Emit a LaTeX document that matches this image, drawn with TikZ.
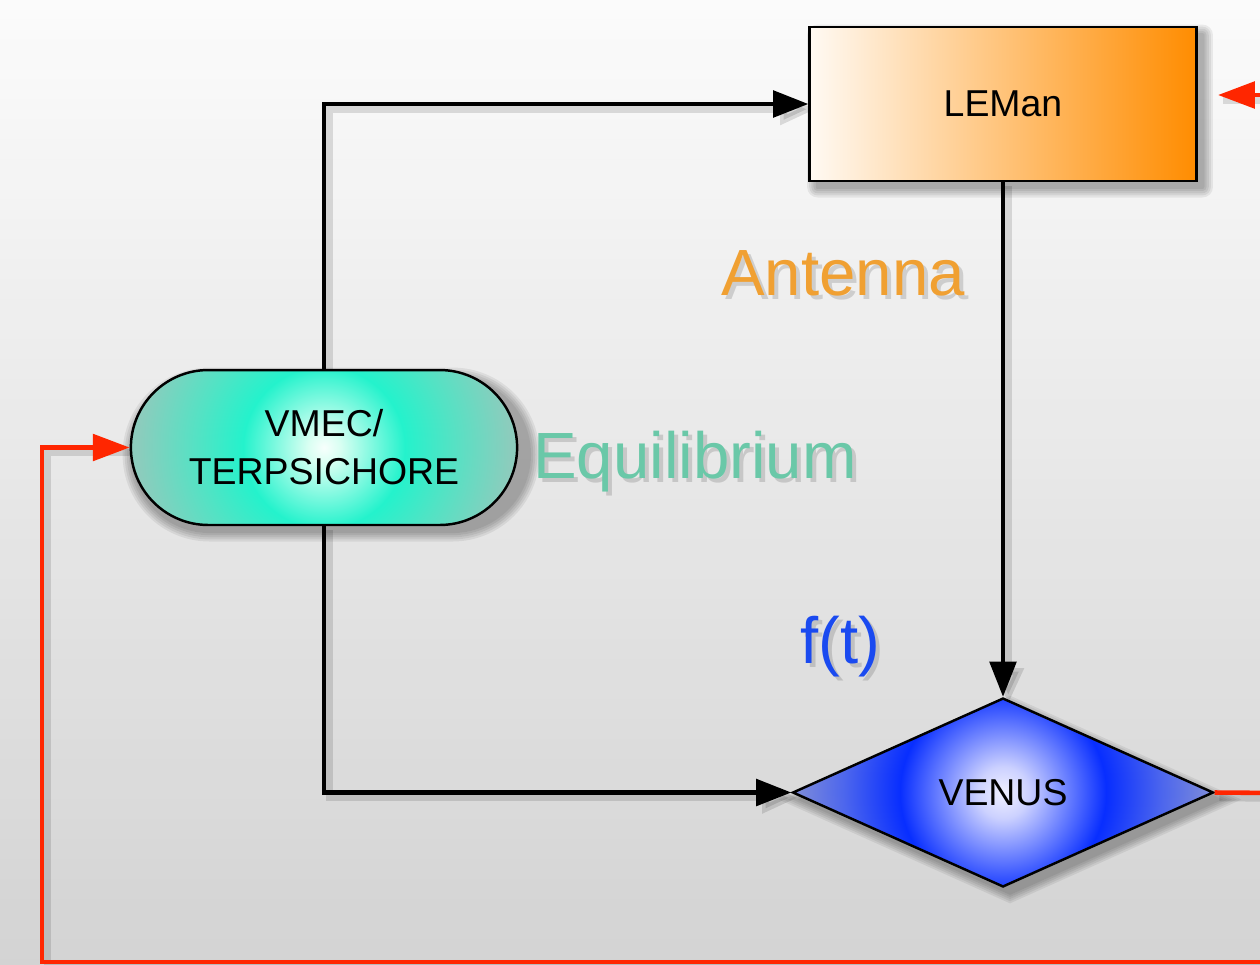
\documentclass[tikz,border=0pt]{standalone}
\usepackage{fontspec}
\setmainfont{Liberation Sans}
\usetikzlibrary{arrows.meta,shapes.geometric,shapes.misc}
\definecolor{redc}{RGB}{255,38,0}
\definecolor{antc}{RGB}{240,160,50}
\definecolor{equc}{RGB}{106,200,168}
\definecolor{ftc}{RGB}{26,74,240}
\definecolor{bgtop}{RGB}{251,251,251}
\definecolor{bgbot}{RGB}{211,211,211}
\pgfdeclarehorizontalshading{leshade}{100bp}{rgb(0bp)=(1,0.98,0.955); rgb(25bp)=(1,0.98,0.955); rgb(75bp)=(1,0.55,0); rgb(100bp)=(1,0.55,0)}
\pgfdeclareradialshading{vmshade}{\pgfpoint{0bp}{0bp}}{rgb(0bp)=(0.97,1,0.99); rgb(2bp)=(0.85,1,0.95); rgb(10bp)=(0.14,0.95,0.8); rgb(15.5bp)=(0.32,0.89,0.77); rgb(23bp)=(0.55,0.8,0.74); rgb(50bp)=(0.56,0.8,0.74)}
\pgfdeclareradialshading{veshade}{\pgfpoint{0bp}{0bp}}{rgb(0bp)=(0.94,0.94,1); rgb(3bp)=(0.8,0.82,1); rgb(12bp)=(0.03,0.18,1); rgb(18.5bp)=(0.3,0.4,0.93); rgb(25bp)=(0.52,0.57,0.84); rgb(50bp)=(0.52,0.57,0.84)}
\begin{document}
\begin{tikzpicture}[x=0.02cm,y=-0.02cm,
  nodetext/.style={font=\fontsize{21.3pt}{27.2pt}\selectfont, text=black},
  lab/.style={font=\fontsize{37.2pt}{40pt}\selectfont, inner sep=0pt},
  labshadow/.style={lab, text=black, opacity=0.14},
  shadowstep/.style={fill=black, opacity=0.065, draw=none, inner sep=0pt},
  lebox/.style={rectangle, draw=black, line width=1.4pt, minimum width=7.74cm, minimum height=3.08cm, fill=orange!40, nodetext,
     path picture={\shade[shading=leshade] (path picture bounding box.south west) rectangle (path picture bounding box.north east);}},
  vmbox/.style={rounded rectangle, draw=black, line width=1.4pt, minimum width=7.96cm, minimum height=3.1cm, fill=cyan!40, align=center, nodetext,
     path picture={\shade[shading=vmshade] (path picture bounding box.center) circle (4.05cm);}},
  vebox/.style={diamond, draw=black, line width=1.4pt, minimum width=8.42cm, minimum height=3.78cm, inner sep=0pt, fill=blue, nodetext,
     path picture={\shade[shading=veshade] (path picture bounding box.center) circle (4.3cm);}},
  conn/.style={line width=2.5pt, draw=black, -{Triangle[length=20pt,width=15pt]}},
  connshadow/.style={line width=4pt, draw=black, opacity=0.12, -{Triangle[length=20pt,width=17pt]}, transform canvas={xshift=3pt,yshift=-3pt}},
  redline/.style={line width=2.6pt, draw=redc},
  redarrow/.style={redline, -{Triangle[length=21pt,width=15pt]}},
  redshadow/.style={line width=4pt, draw=black, opacity=0.12, transform canvas={xshift=3pt,yshift=-3pt}},
]
\useasboundingbox (0,0) rectangle (1260,964);
\clip (0,0) rectangle (1260,964);
% background gradient
\foreach \i in {0,...,48}{
  \pgfmathsetmacro{\pc}{100-\i*100/48}
  \fill[bgtop!\pc!bgbot] (0,\i*20-1) rectangle (1260,\i*20+21);
}

% node centres and border points
\coordinate (lec) at (1003,104);
\coordinate (vmc) at (324,447.5);
\coordinate (vec) at (1003,792.5);
\coordinate (lew) at (810,104);
\coordinate (les) at (1003,181);
\coordinate (vmn) at (324,370);
\coordinate (vms) at (324,525);
\coordinate (vmw) at (130,447.5);
\coordinate (ven) at (1003,698);
\coordinate (vew) at (792,792.5);
\coordinate (vee) at (1214,792.5);

% coordinates for free ends
\coordinate (rvout) at (1280,793);
\coordinate (rlin) at (1280,95);
\coordinate (rltip) at (1218,95);
\coordinate (rbr) at (1280,962);
\coordinate (rbl) at (42,962);

% node shadows
\foreach \k in {1,...,5}{
  \node[shadowstep, rectangle, rounded corners=\k*1.2pt, minimum width=7.74cm+\k*2.4pt-1.2pt, minimum height=3.08cm+\k*2.4pt-1.2pt] (lesh\k) at ([shift={(4pt,-4pt)}]lec) {};
  \node[shadowstep, rounded rectangle, minimum width=7.96cm+\k*2.4pt-1.2pt, minimum height=3.1cm+\k*2.4pt-1.2pt] (vmsh\k) at ([shift={(4pt,-4pt)}]vmc) {};
  \node[shadowstep, diamond, minimum width=8.42cm+\k*5.3pt-2.6pt, minimum height=3.78cm+\k*2.4pt-1.2pt] (vesh\k) at ([shift={(4pt,-4pt)}]vec) {};
}

% connector shadows
\draw[connshadow] (vmn) |- (lew);
\draw[connshadow] (les) -- (ven);
\draw[connshadow] (vms) |- (vew);
\draw[redshadow] (rbr) -- (rbl) |- (vmw);
\draw[redshadow] (vee) -- (rvout);
\draw[redshadow] (rlin) -- (rltip);

% text shadows
\node[labshadow, anchor=base] (antS) at (847,299) {Antenna};
\node[labshadow, anchor=base west] (equS) at (537,482) {Equilibrium};
\node[labshadow, anchor=base] (ftS) at (844,667) {f(t)};

% nodes
\node[lebox] (le) at (lec) {LEMan};
\node[vmbox] (vm) at (vmc) {VMEC/\\TERPSICHORE};
\node[vebox] (ve) at (vec) {VENUS};

% connectors
\draw[conn] (vm.north) |- (le.west);
\draw[conn] (le.south) -- (ve.north);
\draw[conn] (vm.south) |- (ve.west);
\draw[redline] (ve.east) -- (rvout);
\draw[redarrow] (rlin) -- (rltip);
\draw[redarrow] (rbr) -- (rbl) |- (vm.west);

% labels
\node[lab, text=antc, anchor=base] (ant) at (843,295) {Antenna};
\node[lab, text=equc, anchor=base west] (equ) at (533,478) {Equilibrium};
\node[lab, text=ftc, anchor=base] (ft) at (840,663) {f(t)};
\end{tikzpicture}
\end{document}
